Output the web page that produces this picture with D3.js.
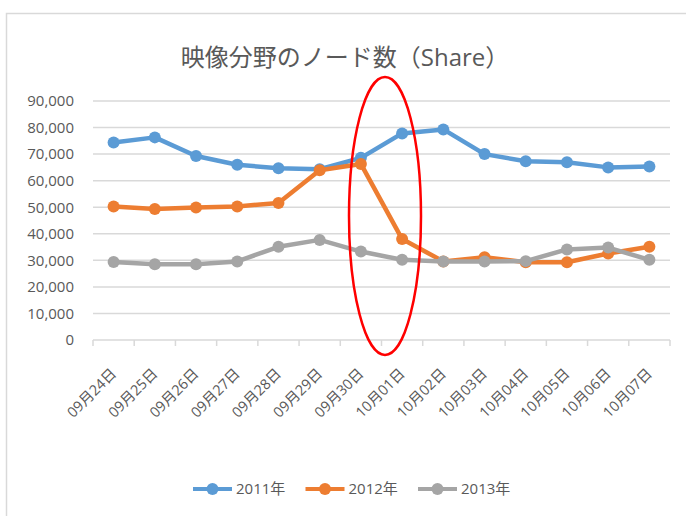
<!DOCTYPE html>
<html>
<head>
<meta charset="utf-8">
<script src="https://cdn.jsdelivr.net/npm/d3@7/dist/d3.min.js"></script>
<style>
  body { margin: 0; background: #fff; }
  text { font-family: "Open Sans", "Noto Sans CJK JP", sans-serif; fill: #595959; }
</style>
</head>
<body>
<div id="chart"></div>
<script>
// chart data
var dates = ["09月24日","09月25日","09月26日","09月27日","09月28日","09月29日","09月30日",
             "10月01日","10月02日","10月03日","10月04日","10月05日","10月06日","10月07日"];
var years = ["2011年", "2012年", "2013年"];
var v2011 = [74400, 76300, 69300, 66000, 64700, 64300, 68600, 77800, 79300, 70000, 67300, 66900, 65000, 65300];
var v2012 = [50300, 49300, 49900, 50300, 51600, 63900, 66300, 38000, 29600, 31200, 29300, 29300, 32600, 35100];
var v2013 = [29400, 28500, 28500, 29600, 35100, 37700, 33300, 30200, 29600, 29600, 29700, 34100, 34800, 30200];
var yTicks = [0, 10000, 20000, 30000, 40000, 50000, 60000, 70000, 80000, 90000];
var colors = ["#5B9BD5", "#ED7D31", "#A5A5A5"];

var W = 686, H = 516;
var margin = {top: 101, right: 16, bottom: 176, left: 93},
    width = W - margin.left - margin.right,
    height = H - margin.top - margin.bottom;

var svg = d3.select("#chart").append("svg")
    .attr("width", W)
    .attr("height", H);

// outer frame
svg.append("rect")
    .attr("x", 6.5).attr("y", 13.5)
    .attr("width", W).attr("height", H)
    .attr("fill", "none")
    .attr("stroke", "#d9d9d9")
    .attr("stroke-width", 1.5);

svg.append("text")
    .attr("x", 345).attr("y", 66)
    .attr("text-anchor", "middle")
    .style("font-size", "24px")
    .text("映像分野のノード数（Share）");

var g = svg.append("g")
    .attr("transform", "translate(" + margin.left + "," + margin.top + ")");

var x = d3.scaleBand().domain(dates).range([0, width]);
var y = d3.scaleLinear().domain([0, 90000]).range([height, 0]);

// gridlines
g.selectAll("line.grid").data(yTicks.slice(1)).enter().append("line")
    .attr("class", "grid")
    .attr("x1", 0).attr("x2", width)
    .attr("y1", function(d) { return y(d); })
    .attr("y2", function(d) { return y(d); })
    .attr("stroke", "#d9d9d9")
    .attr("stroke-width", 1.5);

var yAxis = d3.axisLeft(y).tickValues(yTicks).tickSize(0).tickPadding(19)
    .tickFormat(d3.format(","));
var ya = g.append("g").call(yAxis);
ya.select(".domain").remove();
ya.selectAll("text").style("font-size", "15px").style("fill", "#595959")
    .style("font-family", "'Open Sans', sans-serif");

// x axis with ticks at band edges
var xa = g.append("g").attr("transform", "translate(0," + height + ")");
xa.append("line")
    .attr("x1", 0).attr("x2", width)
    .attr("stroke", "#d9d9d9").attr("stroke-width", 1.5);
xa.selectAll("line.tk").data(d3.range(dates.length + 1)).enter().append("line")
    .attr("class", "tk")
    .attr("x1", function(i) { return i * x.bandwidth(); })
    .attr("x2", function(i) { return i * x.bandwidth(); })
    .attr("y1", 0).attr("y2", 6)
    .attr("stroke", "#d9d9d9").attr("stroke-width", 1.5);
xa.selectAll("text").data(dates).enter().append("text")
    .attr("transform", function(d) {
        return "translate(" + (x(d) + x.bandwidth() / 2) + ",31) rotate(-45)";
    })
    .attr("text-anchor", "end")
    .attr("dy", "0.35em")
    .style("font-size", "14.5px")
    .text(function(d) { return d; });

var line = d3.line()
    .x(function(d, i) { return x(dates[i]) + x.bandwidth() / 2; })
    .y(function(d) { return y(d); });

[v2011, v2012, v2013].forEach(function(vals, k) {
    var s = g.append("g");
    s.append("path").datum(vals)
        .attr("d", line)
        .attr("fill", "none")
        .attr("stroke", colors[k])
        .attr("stroke-width", 4.5)
        .attr("stroke-linejoin", "round");
    s.selectAll("circle").data(vals).enter().append("circle")
        .attr("cx", function(d, i) { return x(dates[i]) + x.bandwidth() / 2; })
        .attr("cy", function(d) { return y(d); })
        .attr("r", 6)
        .attr("fill", colors[k]);
});

// red ellipse annotation
svg.append("ellipse")
    .attr("cx", 385).attr("cy", 216)
    .attr("rx", 36).attr("ry", 139)
    .attr("fill", "none")
    .attr("stroke", "#ff0000")
    .attr("stroke-width", 2.5);

// legend
var leg = svg.append("g").attr("transform", "translate(193,489)");
years.forEach(function(name, k) {
    var lg = leg.append("g").attr("transform", "translate(" + (k * 112.5) + ",0)");
    lg.append("line").attr("x1", 0).attr("x2", 39)
        .attr("stroke", colors[k]).attr("stroke-width", 4);
    lg.append("circle").attr("cx", 19.5).attr("r", 6).attr("fill", colors[k]);
    lg.append("text").attr("x", 43).attr("dy", "0.35em")
        .style("font-size", "15px").text(name);
});
</script>
</body>
</html>
